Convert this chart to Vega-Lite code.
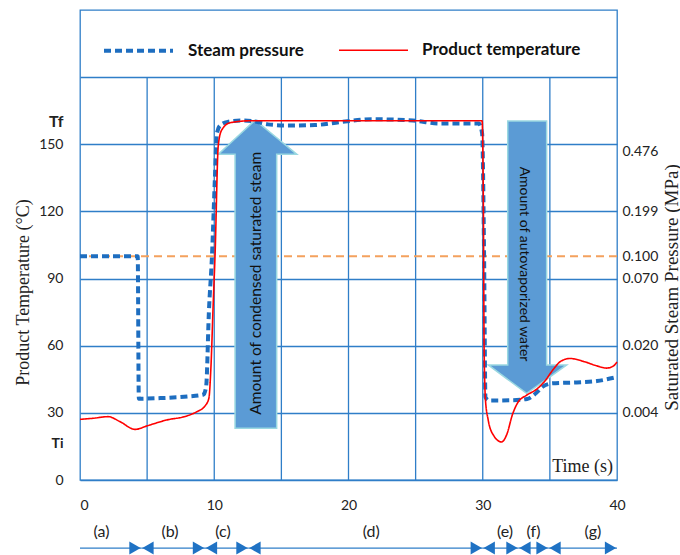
{
  "$schema": "https://vega.github.io/schema/vega-lite/v6.json",
  "width": 537,
  "height": 470,
  "autosize": "none",
  "padding": {"left": 80, "top": 10, "right": 63, "bottom": 75},
  "background": "white",
  "config": {
    "view": {"stroke": "#2F7EC8", "strokeWidth": 1.3},
    "axis": {"labelFont": "Lato", "labelColor": "#222", "titleFont": "Liberation Serif", "titleFontWeight": "normal", "titleColor": "#222"}
  },
  "datasets": {
    "curves": [
      {"series": "Steam pressure", "t": 0, "v": 100},
      {"series": "Steam pressure", "t": 4.3, "v": 100},
      {"series": "Steam pressure", "t": 4.38, "v": 36.3},
      {"series": "Steam pressure", "t": 6, "v": 36.6},
      {"series": "Steam pressure", "t": 8, "v": 37.3},
      {"series": "Steam pressure", "t": 9.2, "v": 38.2},
      {"series": "Steam pressure", "t": 9.4, "v": 42},
      {"series": "Steam pressure", "t": 9.6, "v": 75},
      {"series": "Steam pressure", "t": 9.83, "v": 100},
      {"series": "Steam pressure", "t": 10.05, "v": 135},
      {"series": "Steam pressure", "t": 10.2, "v": 155},
      {"series": "Steam pressure", "t": 10.45, "v": 158.5},
      {"series": "Steam pressure", "t": 11, "v": 160},
      {"series": "Steam pressure", "t": 12, "v": 160.6},
      {"series": "Steam pressure", "t": 13, "v": 160.2},
      {"series": "Steam pressure", "t": 14, "v": 158.9},
      {"series": "Steam pressure", "t": 15.5, "v": 158.4},
      {"series": "Steam pressure", "t": 17.5, "v": 158.6},
      {"series": "Steam pressure", "t": 19.5, "v": 160},
      {"series": "Steam pressure", "t": 21.8, "v": 161.2},
      {"series": "Steam pressure", "t": 24.8, "v": 160.6},
      {"series": "Steam pressure", "t": 26.8, "v": 159.3},
      {"series": "Steam pressure", "t": 29.7, "v": 159.3},
      {"series": "Steam pressure", "t": 29.95, "v": 155},
      {"series": "Steam pressure", "t": 30.1, "v": 100},
      {"series": "Steam pressure", "t": 30.2, "v": 37},
      {"series": "Steam pressure", "t": 30.5, "v": 35.5},
      {"series": "Steam pressure", "t": 32, "v": 35.6},
      {"series": "Steam pressure", "t": 33.3, "v": 36.2},
      {"series": "Steam pressure", "t": 34, "v": 39},
      {"series": "Steam pressure", "t": 34.5, "v": 41.8},
      {"series": "Steam pressure", "t": 35.2, "v": 43.2},
      {"series": "Steam pressure", "t": 37, "v": 43.6},
      {"series": "Steam pressure", "t": 38.5, "v": 44.2},
      {"series": "Steam pressure", "t": 40, "v": 46},
      {"series": "Product temperature", "t": 0, "v": 27.1},
      {"series": "Product temperature", "t": 1, "v": 27.6},
      {"series": "Product temperature", "t": 2.1, "v": 28.3},
      {"series": "Product temperature", "t": 3, "v": 26},
      {"series": "Product temperature", "t": 4.1, "v": 22.6},
      {"series": "Product temperature", "t": 5, "v": 24.2},
      {"series": "Product temperature", "t": 6.45, "v": 26.8},
      {"series": "Product temperature", "t": 7.95, "v": 28.6},
      {"series": "Product temperature", "t": 8.7, "v": 30.5},
      {"series": "Product temperature", "t": 9.3, "v": 33},
      {"series": "Product temperature", "t": 9.6, "v": 36.5},
      {"series": "Product temperature", "t": 9.75, "v": 50},
      {"series": "Product temperature", "t": 9.93, "v": 80},
      {"series": "Product temperature", "t": 10.06, "v": 100.5},
      {"series": "Product temperature", "t": 10.3, "v": 149.5},
      {"series": "Product temperature", "t": 10.55, "v": 156.3},
      {"series": "Product temperature", "t": 11.17, "v": 159.6},
      {"series": "Product temperature", "t": 12.66, "v": 160.5},
      {"series": "Product temperature", "t": 20, "v": 160.5},
      {"series": "Product temperature", "t": 29.95, "v": 160.5},
      {"series": "Product temperature", "t": 30.05, "v": 120},
      {"series": "Product temperature", "t": 30.1, "v": 60},
      {"series": "Product temperature", "t": 30.2, "v": 36},
      {"series": "Product temperature", "t": 30.4, "v": 27},
      {"series": "Product temperature", "t": 30.8, "v": 20},
      {"series": "Product temperature", "t": 31.4, "v": 17},
      {"series": "Product temperature", "t": 31.8, "v": 20.5},
      {"series": "Product temperature", "t": 32.2, "v": 29},
      {"series": "Product temperature", "t": 32.6, "v": 34.5},
      {"series": "Product temperature", "t": 33.3, "v": 38},
      {"series": "Product temperature", "t": 34, "v": 40.5},
      {"series": "Product temperature", "t": 34.6, "v": 44},
      {"series": "Product temperature", "t": 35.2, "v": 49},
      {"series": "Product temperature", "t": 35.8, "v": 53},
      {"series": "Product temperature", "t": 36.5, "v": 54.3},
      {"series": "Product temperature", "t": 37.5, "v": 53},
      {"series": "Product temperature", "t": 38.5, "v": 51},
      {"series": "Product temperature", "t": 39.2, "v": 50},
      {"series": "Product temperature", "t": 39.7, "v": 50.8},
      {"series": "Product temperature", "t": 40, "v": 52.7}
    ],
    "vgrid": [{"t": 5}, {"t": 10}, {"t": 15}, {"t": 20}, {"t": 25}, {"t": 30}, {"t": 35}],
    "arrows": [
      {"arrow": "up", "ax": 10.3, "ay1": 145.5, "ay2": 145.5},
      {"arrow": "up", "ax": 11.55, "ay1": 152.45, "ay2": 145.5},
      {"arrow": "up", "ax": 11.551, "ay1": 152.45, "ay2": 23.1},
      {"arrow": "up", "ax": 13.05, "ay1": 160.8, "ay2": 23.1},
      {"arrow": "up", "ax": 14.65, "ay1": 152.9, "ay2": 23.1},
      {"arrow": "up", "ax": 14.651, "ay1": 152.9, "ay2": 145.5},
      {"arrow": "up", "ax": 16.15, "ay1": 145.5, "ay2": 145.5},
      {"arrow": "down", "ax": 30.41, "ay1": 51.4, "ay2": 51.4},
      {"arrow": "down", "ax": 31.86, "ay1": 51.4, "ay2": 44.96},
      {"arrow": "down", "ax": 31.861, "ay1": 160.4, "ay2": 44.96},
      {"arrow": "down", "ax": 33.27, "ay1": 160.4, "ay2": 38.7},
      {"arrow": "down", "ax": 34.76, "ay1": 160.4, "ay2": 45.05},
      {"arrow": "down", "ax": 34.761, "ay1": 51.4, "ay2": 45.05},
      {"arrow": "down", "ax": 36.25, "ay1": 51.4, "ay2": 51.4}
    ],
    "phases": [
      {"phase": "(a)", "start": 0, "end": 4.58, "lab": 1.6},
      {"phase": "(b)", "start": 4.58, "end": 9.31, "lab": 6.7},
      {"phase": "(c)", "start": 9.31, "end": 12.55, "lab": 10.65},
      {"phase": "(d)", "start": 12.55, "end": 30, "lab": 21.7},
      {"phase": "(e)", "start": 30, "end": 32.66, "lab": 31.66},
      {"phase": "(f)", "start": 32.66, "end": 34.9, "lab": 33.78},
      {"phase": "(g)", "start": 34.9, "end": 40, "lab": 38.2}
    ]
  },
  "resolve": {"axis": {"x": "independent", "y": "independent"}},
  "layer": [
    {
      "data": {"name": "vgrid"},
      "mark": {"type": "rule", "stroke": "#2F7EC8", "strokeWidth": 1.3},
      "encoding": {
        "x": {
          "field": "t", "type": "quantitative",
          "scale": {"domain": [0, 40], "nice": false, "zero": false},
          "axis": {
            "values": [0, 10, 20, 30, 40], "grid": false, "ticks": false, "domain": false,
            "labelPadding": 18, "labelFontSize": 14, "title": null,
            "labelAlign": {"condition": {"test": "datum.value == 0", "value": "left"}, "value": "center"}
          }
        },
        "y": {"datum": 0, "type": "quantitative", "scale": {"domain": [0, 210], "nice": false, "zero": false}, "axis": null},
        "y2": {"datum": 180}
      }
    },
    {
      "data": {"values": [{}]},
      "mark": {"type": "rule", "stroke": "#F4A15D", "strokeWidth": 2, "strokeDash": [8, 5]},
      "encoding": {"y": {"datum": 100, "type": "quantitative", "axis": null}}
    },
    {
      "data": {"name": "arrows"},
      "mark": {"type": "area", "fill": "#5B9BD5", "stroke": "#9AD8E1", "strokeWidth": 1.5, "interpolate": "linear", "opacity": 1},
      "encoding": {
        "x": {"field": "ax", "type": "quantitative", "axis": null},
        "y": {"field": "ay1", "type": "quantitative", "axis": null},
        "y2": {"field": "ay2"},
        "detail": {"field": "arrow", "type": "nominal"}
      }
    },
    {
      "data": {"values": [{}]},
      "mark": {"type": "text", "angle": 270, "font": "Lato", "fontSize": 15.5, "color": "#111", "align": "center", "baseline": "middle"},
      "encoding": {
        "x": {"datum": 13.1, "type": "quantitative", "axis": null},
        "y": {"datum": 87.9, "type": "quantitative", "axis": null},
        "text": {"value": "Amount of condensed saturated steam"}
      }
    },
    {
      "data": {"values": [{}]},
      "mark": {"type": "text", "angle": 90, "font": "Lato", "fontSize": 14, "color": "#111", "align": "center", "baseline": "middle"},
      "encoding": {
        "x": {"datum": 33.07, "type": "quantitative", "axis": null},
        "y": {"datum": 96.5, "type": "quantitative", "axis": null},
        "text": {"value": "Amount of autovaporized water"}
      }
    },
    {
      "data": {"name": "curves"},
      "mark": {"type": "line", "interpolate": "monotone"},
      "encoding": {
        "x": {"field": "t", "type": "quantitative", "axis": null},
        "y": {
          "field": "v", "type": "quantitative",
          "axis": {
            "orient": "left",
            "values": [0, 30, 60, 90, 120, 150, 180, 160, 16.5],
            "labelExpr": "datum.value == 160 ? 'Tf' : datum.value == 16.5 ? 'Ti' : datum.value == 180 ? '' : datum.label",
            "labelFontWeight": {"condition": {"test": "datum.value == 160 || datum.value == 16.5", "value": "bold"}, "value": "normal"},
            "labelFontSize": {"condition": {"test": "datum.value == 160", "value": 16}, "value": 14},
            "labelOverlap": false,
            "grid": true, "gridColor": "#2F7EC8", "gridWidth": 1.3,
            "gridOpacity": {"condition": {"test": "datum.value == 160 || datum.value == 16.5", "value": 0}, "value": 1},
            "ticks": false, "domain": false, "labelPadding": 17,
            "title": "Product Temperature (°C)", "titleFontSize": 18,
            "titleX": -57, "titleY": 282, "titleBaseline": "middle", "titleAlign": "center"
          }
        },
        "color": {
          "field": "series", "type": "nominal",
          "scale": {"domain": ["Steam pressure", "Product temperature"], "range": ["#1E6EC0", "#FF0000"]},
          "legend": {
            "orient": "none", "legendX": 22, "legendY": 4, "direction": "horizontal", "title": null,
            "symbolType": "stroke", "symbolSize": 4761,
            "labelFont": "Lato", "labelFontSize": 17, "labelFontWeight": "bold", "labelColor": "#111",
            "labelOffset": 13, "columnPadding": 31, "padding": 0, "labelLimit": 300
          }
        },
        "strokeDash": {
          "field": "series", "type": "nominal",
          "scale": {"domain": ["Steam pressure", "Product temperature"], "range": [[7, 4], [1, 0]]}
        },
        "strokeWidth": {
          "field": "series", "type": "nominal",
          "scale": {"domain": ["Steam pressure", "Product temperature"], "range": [4, 1.6]}
        }
      }
    },
    {
      "data": {"values": [{}]},
      "mark": {"type": "text", "font": "Liberation Serif", "fontSize": 18, "color": "#222", "align": "right", "baseline": "middle", "dx": -4},
      "encoding": {
        "x": {"datum": 40, "type": "quantitative", "axis": null},
        "y": {
          "datum": 5.8, "type": "quantitative",
          "axis": {
            "orient": "right",
            "values": [147, 120, 100, 90, 60, 30],
            "labelExpr": "datum.value == 147 ? '0.476' : datum.value == 120 ? '0.199' : datum.value == 100 ? '0.100' : datum.value == 90 ? '0.070' : datum.value == 60 ? '0.020' : '0.004'",
            "labelFontSize": 14, "labelOverlap": false,
            "grid": false, "ticks": false, "domain": false, "labelPadding": 5,
            "title": "Saturated Steam Pressure (MPa)", "titleFontSize": 19,
            "titleX": 54, "titleY": 277, "titleBaseline": "middle", "titleAlign": "center", "titleAngle": 270
          }
        },
        "text": {"value": "Time (s)"}
      }
    },
    {
      "data": {"name": "phases"},
      "mark": {"type": "rule", "stroke": "#2F7EC8", "strokeWidth": 1.3},
      "encoding": {
        "x": {"field": "start", "type": "quantitative", "axis": null},
        "x2": {"field": "end"},
        "y": {"datum": -30.4, "type": "quantitative", "axis": null}
      }
    },
    {
      "data": {"name": "phases"},
      "mark": {"type": "point", "shape": "triangle-right", "filled": true, "color": "#1F72C4", "size": 170, "opacity": 1, "xOffset": -6.5},
      "encoding": {
        "x": {"field": "end", "type": "quantitative", "axis": null},
        "y": {"datum": -30.4, "type": "quantitative", "axis": null}
      }
    },
    {
      "data": {"name": "phases"},
      "transform": [{"filter": "datum.start > 0"}],
      "mark": {"type": "point", "shape": "triangle-left", "filled": true, "color": "#1F72C4", "size": 170, "opacity": 1, "xOffset": 6.5},
      "encoding": {
        "x": {"field": "start", "type": "quantitative", "axis": null},
        "y": {"datum": -30.4, "type": "quantitative", "axis": null}
      }
    },
    {
      "data": {"name": "phases"},
      "mark": {"type": "text", "font": "Lato", "fontSize": 16, "color": "#222", "align": "center", "baseline": "middle"},
      "encoding": {
        "x": {"field": "lab", "type": "quantitative", "axis": null},
        "y": {"datum": -23.2, "type": "quantitative", "axis": null},
        "text": {"field": "phase"}
      }
    }
  ]
}
